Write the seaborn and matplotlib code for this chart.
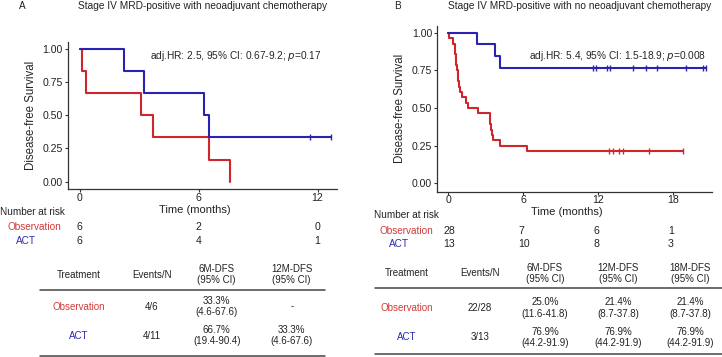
import numpy as np
import pandas as pd
import seaborn as sns
import matplotlib.pyplot as plt
from matplotlib.lines import Line2D
from matplotlib.transforms import blended_transform_factory

sns.set_theme(style="ticks")
plt.rcParams['font.family'] = ['Liberation Sans', 'DejaVu Sans']

RED = "#CF262C"
BLUE = "#2A22B0"
RED_TXT = "#D23A3A"
BLUE_TXT = "#2B2BB0"

# panel A (with neoadjuvant chemotherapy): event and censor times, months
a_obs_events = [0.12, 0.33, 3.1, 3.7, 6.5, 7.57]
a_obs_censor = []
a_act_events = [2.22, 3.23, 6.26, 6.5]
a_act_censor = [11.6, 12.7]

# panel B (no neoadjuvant chemotherapy)
b_obs_events = [0.08, 0.35, 0.5, 0.55, 0.6, 0.65, 0.7, 0.75, 0.8, 0.85, 0.9,
                1.07, 1.42, 1.6, 2.4, 3.3, 3.35, 3.42, 3.5, 3.6, 4.13, 6.32]
b_obs_censor = [12.88, 13.15, 13.68, 13.95, 16.08, 18.8]
b_act_events = [2.32, 3.73, 4.13]
b_act_censor = [11.6, 11.82, 12.72, 12.94, 14.8, 15.79, 16.72, 19.02, 20.35, 20.62]

a_ticks = [0, 6, 12]
b_ticks = [0, 6, 12, 18]
a_risk_obs = ["6", "2", "0"]
a_risk_act = ["6", "4", "1"]
b_risk_obs = ["28", "7", "6", "1"]
b_risk_act = ["13", "10", "8", "3"]

a_title = "Stage IV MRD-positive with neoadjuvant chemotherapy"
b_title = "Stage IV MRD-positive with no neoadjuvant chemotherapy"
a_hr = "adj.HR: 2.5, 95% CI: 0.67-9.2; $\\it{p}$=0.17"
b_hr = "adj.HR: 5.4, 95% CI: 1.5-18.9; $\\it{p}$=0.008"

a_header = ["Treatment", "Events/N", "6M-DFS\n(95% CI)", "12M-DFS\n(95% CI)"]
a_row_obs = ["Observation", "4/6", "33.3%\n(4.6-67.6)", "-"]
a_row_act = ["ACT", "4/11", "66.7%\n(19.4-90.4)", "33.3%\n(4.6-67.6)"]
b_header = ["Treatment", "Events/N", "6M-DFS\n(95% CI)", "12M-DFS\n(95% CI)", "18M-DFS\n(95% CI)"]
b_row_obs = ["Observation", "22/28", "25.0%\n(11.6-41.8)", "21.4%\n(8.7-37.8)", "21.4%\n(8.7-37.8)"]
b_row_act = ["ACT", "3/13", "76.9%\n(44.2-91.9)", "76.9%\n(44.2-91.9)", "76.9%\n(44.2-91.9)"]


def km(events, censor):
    times = sorted([(t, 1) for t in events] + [(t, 0) for t in censor])
    n = len(times)
    s = 1.0
    xs, ys = [0.0], [1.0]
    cx, cy = [], []
    for t, e in times:
        if e:
            s = s * (n - 1) / n
            xs.append(t)
            ys.append(s)
        else:
            cx.append(t)
            cy.append(s)
        n -= 1
    if cx and cx[-1] > xs[-1]:
        xs.append(cx[-1])
        ys.append(ys[-1])
    return pd.DataFrame({"t": xs, "s": ys}), cx, cy


W, H = 722, 357
fig = plt.figure(figsize=(W / 100, H / 100), dpi=100)


def fx(x):
    return x / W


def fy(y):
    return 1 - y / H


def txt(x, y, s, **kw):
    kw.setdefault("ha", "center")
    kw.setdefault("va", "center")
    kw.setdefault("fontsize", 7.2)
    kw.setdefault("color", "#222222")
    fig.text(fx(x), fy(y), s, **kw)


def panel(rect, xlim, ylim, ticks, curves):
    l, r, t, b = rect
    ax = fig.add_axes([fx(l), fy(b), fx(r) - fx(l), fy(t) - fy(b)])
    for (ev, ce, col) in curves:
        df, cx, cy = km(ev, ce)
        sns.lineplot(data=df, x="t", y="s", drawstyle="steps-post", color=col,
                     lw=1.5, ax=ax, estimator=None, sort=False)
        ax.scatter(cx, cy, marker="|", s=22, color=col, lw=1.0, zorder=3)
    ax.set_xlim(*xlim)
    ax.set_ylim(*ylim)
    ax.set_xticks(ticks)
    ax.set_yticks([0, 0.25, 0.5, 0.75, 1.0])
    ax.set_yticklabels(["0.00", "0.25", "0.50", "0.75", "1.00"])
    ax.set_xlabel("")
    ax.set_ylabel("Disease-free Survival", fontsize=8.3, labelpad=4)
    ax.tick_params(labelsize=7.6, length=2.2, width=0.8, colors="#333333",
                   labelcolor="#222222", pad=1.5)
    ax.tick_params(axis="x", pad=0.3)
    for sp in ["top", "right"]:
        ax.spines[sp].set_visible(False)
    for sp in ["left", "bottom"]:
        ax.spines[sp].set_linewidth(0.9)
        ax.spines[sp].set_color("#333333")
    return ax


axA = panel((68, 337, 41.7, 189.3), (-0.59, 12.98), (-0.057, 1.053), a_ticks,
            [(a_obs_events, a_obs_censor, RED), (a_act_events, a_act_censor, BLUE)])
axB = panel((437.3, 711.7, 26, 191.7), (-0.88, 21.07), (-0.056, 1.045), b_ticks,
            [(b_obs_events, b_obs_censor, RED), (b_act_events, b_act_censor, BLUE)])

axA.text(0.305, 0.905, a_hr, transform=axA.transAxes, fontsize=7.3, va="center")
axB.text(0.335, 0.82, b_hr, transform=axB.transAxes, fontsize=7.3, va="center")

# titles
txt(22, 6, "A", fontsize=7.2)
txt(78, 6, a_title, ha="left", fontsize=7.3)
txt(398, 6, "B", fontsize=7.2)
txt(448, 6, b_title, ha="left", fontsize=7.3)

# x labels and risk tables
txt(195, 210, "Time (months)", fontsize=8.0)
txt(0, 212, "Number at risk", ha="left", fontsize=7.2)
txt(34, 226.7, "Observation", color=RED_TXT, fontsize=7.2)
txt(26, 240.7, "ACT", color=BLUE_TXT, fontsize=7.2)
trA = blended_transform_factory(axA.transData, fig.transFigure)
for t, o, a in zip(a_ticks, a_risk_obs, a_risk_act):
    axA.text(t, fy(226.7), o, transform=trA, ha="center", va="center", fontsize=7.6, color="#222222")
    axA.text(t, fy(240.7), a, transform=trA, ha="center", va="center", fontsize=7.6, color="#222222")

txt(567, 212, "Time (months)", fontsize=8.0)
txt(374, 214.5, "Number at risk", ha="left", fontsize=7.2)
txt(406.5, 230.7, "Observation", color=RED_TXT, fontsize=7.2)
txt(399, 244, "ACT", color=BLUE_TXT, fontsize=7.2)
trB = blended_transform_factory(axB.transData, fig.transFigure)
for t, o, a in zip(b_ticks, b_risk_obs, b_risk_act):
    axB.text(t - 0.42, fy(230.7), o, transform=trB, ha="left", va="center", fontsize=7.6, color="#222222")
    axB.text(t - 0.42, fy(244), a, transform=trB, ha="left", va="center", fontsize=7.6, color="#222222")

# summary tables
def table(xs, header, rows, hy, ly, ry, by, x0, x1):
    for x, h in zip(xs, header):
        txt(x, hy, h, fontsize=7.0, linespacing=1.15)
    fig.add_artist(Line2D([fx(x0), fx(x1)], [fy(ly), fy(ly)], color="#444444", lw=1.1))
    for row, y in zip(rows, ry):
        for i, (x, s) in enumerate(zip(xs, row)):
            col = "#222222"
            if i == 0:
                col = RED_TXT if s == "Observation" else BLUE_TXT
            txt(x, y, s, fontsize=7.0, color=col, linespacing=1.15)
    fig.add_artist(Line2D([fx(x0), fx(x1)], [fy(by), fy(by)], color="#444444", lw=1.1))


table([79, 151.7, 216.7, 291.7], a_header, [a_row_obs, a_row_act],
      274.5, 290, [306.5, 335.7], 355.7, 40, 325)
table([406.7, 480, 545, 618.3, 690], b_header, [b_row_obs, b_row_act],
      273.5, 288.3, [308, 337.5], 354, 375, 722)

fig.savefig("out.png", dpi=100)
